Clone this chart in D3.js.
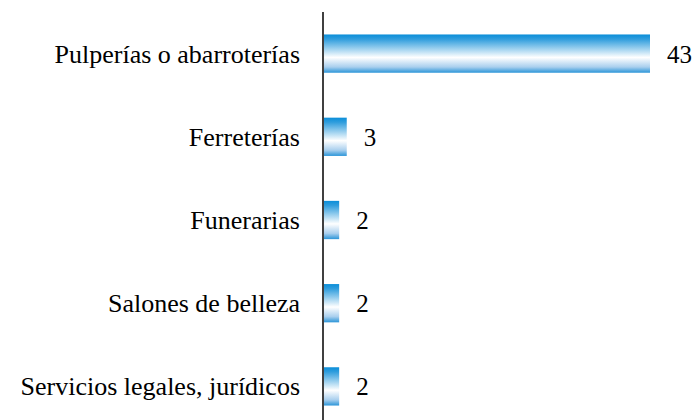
<!DOCTYPE html>
<html>
<head>
<meta charset="utf-8">
<script src="https://cdn.jsdelivr.net/npm/d3@7"></script>
</head>
<body style="margin:0">
<script>
const categories = ["Pulperías o abarroterías", "Ferreterías", "Funerarias", "Salones de belleza", "Servicios legales, jurídicos"];
const values = [43, 3, 2, 2, 2];

const width = 698, height = 420;
const axisX = 323;

const svg = d3.select("body")
  .append("svg").attr("width", width).attr("height", height);

const defs = svg.append("defs");
const grad = defs.append("linearGradient")
  .attr("id", "barGrad")
  .attr("x1", "0").attr("y1", "0").attr("x2", "0").attr("y2", "1");
grad.append("stop").attr("offset", "0").attr("stop-color", "#0a8ed9");
grad.append("stop").attr("offset", "0.12").attr("stop-color", "#2f9ddd");
grad.append("stop").attr("offset", "0.6").attr("stop-color", "#ffffff");
grad.append("stop").attr("offset", "0.85").attr("stop-color", "#a9cfee");
grad.append("stop").attr("offset", "1").attr("stop-color", "#2b95d8");

const y = d3.scaleBand()
  .domain(categories)
  .range([12, 428])
  .paddingInner(0.54)
  .paddingOuter(0.27);

const x = d3.scaleLinear()
  .domain([0, 43])
  .range([axisX + 1, 650]);

svg.selectAll("rect.bar")
  .data(values)
  .join("rect")
  .attr("class", "bar")
  .attr("x", x(0))
  .attr("y", (d, i) => y(categories[i]))
  .attr("width", d => x(d) - x(0))
  .attr("height", y.bandwidth())
  .attr("fill", "url(#barGrad)");

// category labels
svg.selectAll("text.cat")
  .data(categories)
  .join("text")
  .attr("class", "cat")
  .attr("x", 300)
  .attr("y", d => y(d) + y.bandwidth() / 2 + 9)
  .attr("text-anchor", "end")
  .style("font-family", d => `"Liberation Serif"`)
  .attr("font-size", 26)
  .text(d => d);

// value labels
svg.selectAll("text.val")
  .data(values)
  .join("text")
  .attr("class", "val")
  .attr("x", d => x(d) + 17)
  .attr("y", (d, i) => y(categories[i]) + y.bandwidth() / 2 + 9)
  .style("font-family", d => `"Liberation Serif"`)
  .attr("font-size", 25)
  .text(d => d);

svg.append("line")
  .attr("x1", axisX).attr("x2", axisX)
  .attr("y1", 12).attr("y2", height)
  .attr("stroke", "#000")
  .attr("stroke-width", 1.5);
</script>
</body>
</html>
